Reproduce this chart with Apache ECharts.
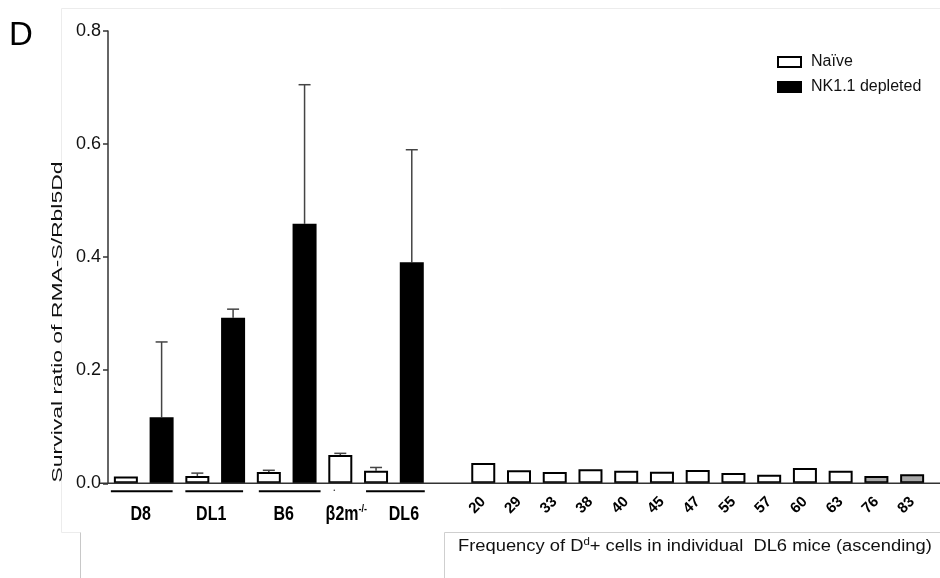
<!DOCTYPE html>
<html>
<head>
<meta charset="utf-8">
<script src="https://cdn.jsdelivr.net/npm/echarts@6/dist/echarts.min.js"></script>
<style>html,body{margin:0;padding:0;background:#fff;}#c{width:940px;height:578px;}</style>
</head>
<body>
<div id="c"></div>
<script>
// ---- data ----
const categories = ['D8 naive','D8 NK','DL1 naive','DL1 NK','B6 naive','B6 NK','b2m naive','DL6 naive','DL6 NK','gap',
  '20','29','33','38','40','45','47','55','57','60','63','76','83'];
const tickLabels = ['','','','','','','','','','',
  '20','29','33','38','40','45','47','55','57','60','63','76','83'];
const naive = [0.012,null,0.013,null,0.020,null,0.050,0.022,null,null,
  0.036,0.023,0.020,0.025,0.022,0.0205,0.0235,0.018,0.015,0.027,0.022,null,null];
const nkDepleted = [null,0.117,null,0.293,null,0.459,null,null,0.391,null,
  null,null,null,null,null,null,null,null,null,null,null,null,null];
const grayBars = [null,null,null,null,null,null,null,null,null,null,
  null,null,null,null,null,null,null,null,null,null,null,0.013,0.016];
const naiveErr = [0,null,0.005,null,0.003,null,0.003,0.006,null];
const nkErr = [null,0.133,null,0.015,null,0.246,null,null,0.199];
const groupNames = ['D8','DL1','B6','β2m','DL6'];
const groupSpans = [[0,1],[2,3],[4,5],[6,6],[7,8]];
const yAxisTitle = 'Survival ratio of RMA-S/Rbl5Dd';

const FONT = '"Liberation Sans", Arial, sans-serif';
const errData = [];
for (let i = 0; i < naiveErr.length; i++) {
  if (naiveErr[i] != null && naive[i] != null && naiveErr[i] > 0) errData.push([i, naive[i], naive[i] + naiveErr[i]]);
  if (nkErr[i] != null && nkDepleted[i] != null) errData.push([i, nkDepleted[i], nkDepleted[i] + nkErr[i]]);
}
function measure(text, font) {
  const c = document.createElement('canvas').getContext('2d');
  c.font = font;
  return c.measureText(text).width;
}

const chart = echarts.init(document.getElementById('c'), null, {renderer: 'canvas'});
const option = {
  animation: false,
  backgroundColor: '#fff',
  title: {text: 'D', left: 9, top: 19, padding: 0, textStyle: {fontFamily: FONT, fontSize: 33, fontWeight: 'normal', color: '#000'}},
  legend: {
    data: ['Naïve', 'NK1.1 depleted'],
    orient: 'vertical', left: 777, top: 54, padding: 0,
    itemWidth: 23, itemHeight: 10, itemGap: 9,
    icon: 'rect',
    textStyle: {fontFamily: FONT, fontSize: 16, color: '#111', padding: [0,0,0,5]}
  },
  grid: {left: 108, right: 10, top: 31, bottom: 94.7, containLabel: false},
  xAxis: {
    type: 'category', data: categories,
    axisLine: {show: false},
    axisTick: {show: false},
    axisLabel: {
      interval: 0, rotate: 45, margin: 16,
      formatter: (v, i) => tickLabels[i],
      fontFamily: FONT, fontSize: 15, fontWeight: 'bold', color: '#000'
    }
  },
  yAxis: {
    type: 'value', min: 0, max: 0.8, interval: 0.2,
    axisLine: {show: true, lineStyle: {color: '#333', width: 1.5}},
    axisTick: {show: true, length: 5, lineStyle: {color: '#333', width: 1.5}},
    axisLabel: {formatter: v => v.toFixed(1), fontFamily: FONT, fontSize: 18, color: '#111', margin: 7},
    splitLine: {show: false}
  },
  series: [
    {name: 'Naïve', type: 'bar', data: naive, barWidth: 24, barGap: '-100%',
      itemStyle: {color: '#fff', borderColor: '#000', borderWidth: 2}},
    {name: 'NK1.1 depleted', type: 'bar', data: nkDepleted, barWidth: 24, barGap: '-100%',
      itemStyle: {color: '#000', borderColor: '#000', borderWidth: 2}},
    {name: 'gray', type: 'bar', data: grayBars, barWidth: 24, barGap: '-100%',
      itemStyle: {color: '#a8a8a8', borderColor: '#000', borderWidth: 2}},
    {name: 'err', type: 'custom', data: errData, z: 1,
      renderItem: function (params, api) {
        const x = api.value(0);
        const p0 = api.coord([x, api.value(1)]);
        const p1 = api.coord([x, api.value(2)]);
        const hw = 6;
        return {type: 'group', children: [
          {type: 'line', shape: {x1: p0[0], y1: p0[1], x2: p1[0], y2: p1[1]}, style: {stroke: '#444', lineWidth: 1.5}},
          {type: 'line', shape: {x1: p1[0] - hw, y1: p1[1], x2: p1[0] + hw, y2: p1[1]}, style: {stroke: '#444', lineWidth: 1.5}}
        ]};
      }}
  ]
};
chart.setOption(option);

const graphics = [];
// faint panel frame lines (drawn first, underneath everything)
graphics.push({type: 'polyline', z: -10, shape: {points: [[940, 8.5], [61.5, 8.5], [61.5, 532.5], [80.5, 532.5]]}, style: {stroke: '#ececec', lineWidth: 1, fill: null}});
graphics.push({type: 'line', z: -10, shape: {x1: 80.5, y1: 532.5, x2: 80.5, y2: 578}, style: {stroke: '#c8c8c8', lineWidth: 1}});
graphics.push({type: 'polyline', z: -10, shape: {points: [[940, 532.5], [444.5, 532.5], [444.5, 578]]}, style: {stroke: '#cfcfcf', lineWidth: 1, fill: null}});

// x baseline (extends a little past the plot on both sides, as in the reference)
const yBase = chart.convertToPixel({yAxisIndex: 0}, 0);
graphics.push({type: 'line', z: 5, shape: {x1: 100, y1: yBase, x2: 940, y2: yBase}, style: {stroke: '#333', lineWidth: 1.5}});

// group underlines and labels below the left part, positioned through the axis scale
const lineOffsets = [[-15, 11], [-12, 10], [-10, 16], [0, 0], [-10, 13]];
const labelOffsets = [-3, -4, -3, 6, 10];
groupNames.forEach((g, k) => {
  const a = chart.convertToPixel({xAxisIndex: 0}, categories[groupSpans[k][0]]);
  const b = chart.convertToPixel({xAxisIndex: 0}, categories[groupSpans[k][1]]);
  if (groupSpans[k][0] !== groupSpans[k][1]) {
    graphics.push({type: 'line', shape: {x1: a + lineOffsets[k][0], y1: yBase + 8, x2: b + lineOffsets[k][1], y2: yBase + 8}, style: {stroke: '#000', lineWidth: 2}});
  } else {
    graphics.push({type: 'circle', shape: {cx: a - 6, cy: yBase + 7, r: 0.8}, style: {fill: '#333'}});
  }
  const cx = (a + b) / 2 + labelOffsets[k];
  const y = yBase + 31;
  if (g === 'β2m') {
    graphics.push({type: 'text', x: cx, y: y, scaleY: 1.3, style: {
      text: '{b|β2m}{s|-/-}', align: 'center', verticalAlign: 'middle',
      rich: {b: {fontFamily: FONT, fontSize: 16, fontWeight: 'bold', fill: '#000'},
             s: {fontFamily: FONT, fontSize: 9, fontWeight: 'bold', fill: '#000', verticalAlign: 'top', padding: [0,0,8,0]}}
    }});
  } else {
    graphics.push({type: 'text', x: cx, y: y, scaleY: 1.3, style: {
      text: g, align: 'center', verticalAlign: 'middle',
      font: 'bold 16px ' + FONT, fill: '#000'}});
  }
});
// y-axis title, stretched along its length as in the reference
const yTitleFont = '15px ' + FONT;
const yTitleW = measure(yAxisTitle, yTitleFont);
graphics.push({type: 'text', z: 10, x: 58, y: 322, rotation: Math.PI / 2, scaleX: 321 / yTitleW, style: {
  text: yAxisTitle, align: 'center', verticalAlign: 'middle', font: yTitleFont, fill: '#111'}});
const bottomFont = '16px ' + FONT;
const bottomW = measure('Frequency of D+ cells in individual  DL6 mice (ascending)', bottomFont) + 4;
graphics.push({type: 'text', x: 458, y: 547, scaleX: 472 / bottomW, style: {
  text: '{n|Frequency of D}{s|d}{n|+ cells in individual  DL6 mice (ascending)}', verticalAlign: 'middle',
  rich: {n: {fontFamily: FONT, fontSize: 16, fill: '#111'}, s: {fontFamily: FONT, fontSize: 10, fill: '#111', padding: [0,0,9,0]}}
}});
chart.setOption({graphic: graphics});
</script>
</body>
</html>
